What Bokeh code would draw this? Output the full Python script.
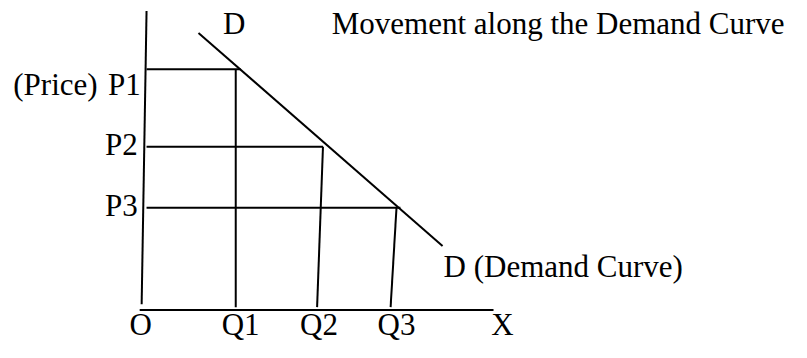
from bokeh.plotting import figure
from bokeh.models import Range1d
from bokeh.core.properties import value
from bokeh.embed import file_html
from bokeh.resources import INLINE

# Chart units: x to the right, y upward (diagram space 0..807 x 0..358)
price_labels = ["P1", "P2", "P3"]
price_y = [286, 205, 141]
price_line_end_x = [245, 329, 408]
qty_labels = ["Q1", "Q2", "Q3"]
qty_top_x = [240, 329, 404]
qty_bottom_x = [240, 323, 398]
qty_label_x = [245, 325, 404]
price_label_x = [143, 140, 140]
price_label_y = [259, 196, 132]

# Axes (slightly hand-drawn tilt)
y_axis_x = [149, 144]
y_axis_y = [347, 40]
x_axis_x = [142, 503]
x_axis_y = [34, 34]
axis_x0 = 149  # where horizontal guides start
qty_bottom_y = 37

# Demand curve endpoints
demand_x = [202, 451]
demand_y = [324, 101]

FONT = value("Liberation Serif")
FS = "31px"

p = figure(width=791, height=342, output_backend="svg", toolbar_location=None,
           x_range=Range1d(0, 807), y_range=Range1d(0, 358), min_border=0)
p.axis.visible = False
p.grid.visible = False
p.outline_line_color = None
p.background_fill_color = "white"
p.border_fill_color = "white"

# axes
p.line(y_axis_x, y_axis_y, line_color="black", line_width=2)
p.line(x_axis_x, x_axis_y, line_color="black", line_width=2)

# demand curve
p.line(demand_x, demand_y, line_color="black", line_width=2)

# horizontal price guides
p.segment(x0=[axis_x0] * 3, y0=price_y, x1=price_line_end_x, y1=price_y,
          line_color="black", line_width=2)
# vertical quantity guides
p.segment(x0=qty_top_x, y0=price_y, x1=qty_bottom_x, y1=[qty_bottom_y] * 3,
          line_color="black", line_width=2)

def txt(x, y, s, align="left"):
    p.text(x=[x], y=[y], text=[s], text_font=FONT, text_font_size=FS,
           text_align=align, text_baseline="alphabetic", text_color="black",
           y_offset=-11)

# price labels
for lx, ly, lab in zip(price_label_x, price_label_y, price_labels):
    txt(lx, ly, lab, "right")
txt(13, 259, "(Price)", "left")

# quantity labels
for lx, lab in zip(qty_label_x, qty_labels):
    txt(lx, 7, lab, "center")
txt(143, 7, "O", "center")
txt(512, 7, "X", "center")

# curve labels and title
txt(227, 322, "D", "left")
txt(338, 322, "Movement along the Demand Curve", "left")
txt(452, 68, "D (Demand Curve)", "left")

open("out.html", "w").write(file_html(p, INLINE))
